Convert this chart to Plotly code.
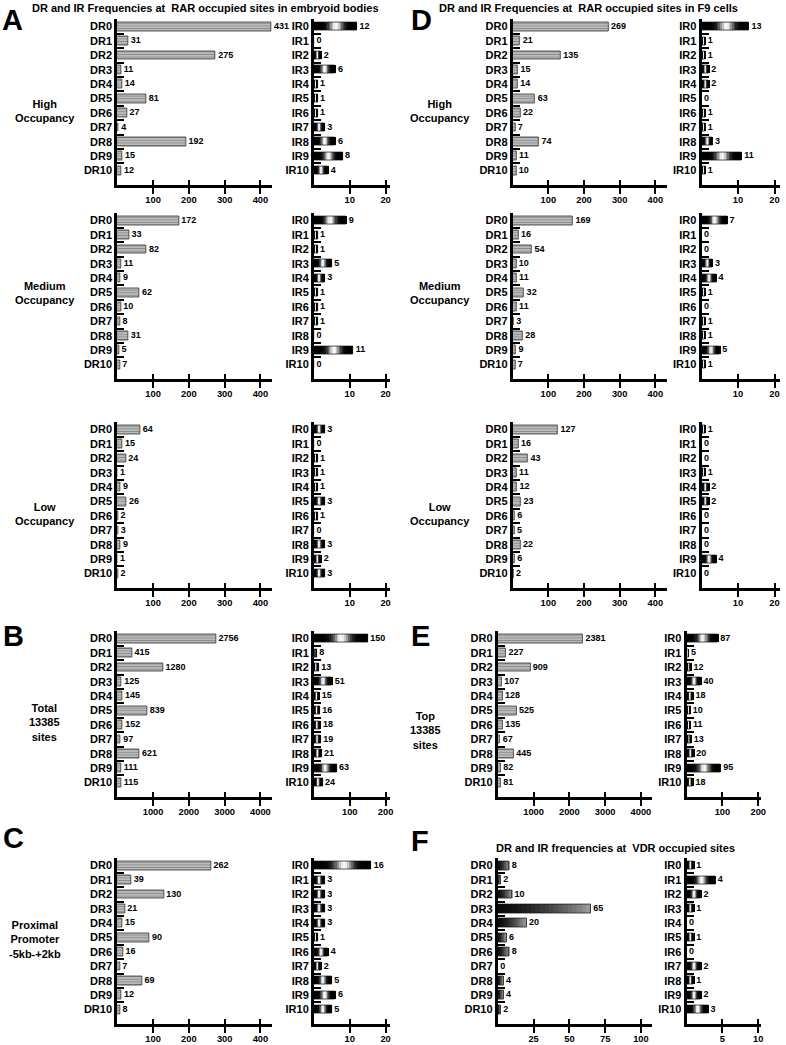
import math
import plotly.graph_objects as go

W, H = 786, 1045

DR_CATS = [f"DR{i}" for i in range(11)]
IR_CATS = [f"IR{i}" for i in range(11)]

# ---- data ----
A_high_DR = [431, 31, 275, 11, 14, 81, 27, 4, 192, 15, 12]
A_high_IR = [12, 0, 2, 6, 1, 1, 1, 3, 6, 8, 4]
A_med_DR = [172, 33, 82, 11, 9, 62, 10, 8, 31, 5, 7]
A_med_IR = [9, 1, 1, 5, 3, 1, 1, 1, 0, 11, 0]
A_low_DR = [64, 15, 24, 1, 9, 26, 2, 3, 9, 1, 2]
A_low_IR = [3, 0, 1, 1, 1, 3, 1, 0, 3, 2, 3]
B_DR = [2756, 415, 1280, 125, 145, 839, 152, 97, 621, 111, 115]
B_IR = [150, 8, 13, 51, 15, 16, 18, 19, 21, 63, 24]
C_DR = [262, 39, 130, 21, 15, 90, 16, 7, 69, 12, 8]
C_IR = [16, 3, 3, 3, 3, 1, 4, 2, 5, 6, 5]
D_high_DR = [269, 21, 135, 15, 14, 63, 22, 7, 74, 11, 10]
D_high_IR = [13, 1, 1, 2, 2, 0, 1, 1, 3, 11, 1]
D_med_DR = [169, 16, 54, 10, 11, 32, 11, 3, 28, 9, 7]
D_med_IR = [7, 0, 0, 3, 4, 1, 0, 1, 1, 5, 1]
D_low_DR = [127, 16, 43, 11, 12, 23, 6, 5, 22, 6, 2]
D_low_IR = [1, 0, 0, 1, 2, 2, 0, 0, 0, 4, 0]
E_DR = [2381, 227, 909, 107, 128, 525, 135, 67, 445, 82, 81]
E_IR = [87, 5, 12, 40, 18, 10, 11, 13, 20, 95, 18]
F_DR = [8, 2, 10, 65, 20, 6, 8, 0, 4, 4, 2]
F_IR = [1, 4, 2, 1, 0, 1, 0, 2, 1, 2, 3]

DR_TICKS_S = [100, 200, 300, 400]
DR_TICKS_L = [1000, 2000, 3000, 4000]
IR_TICKS_S = [10, 20]
IR_TICKS_L = [100, 200]
F_DR_TICKS = [25, 50, 75, 100]
F_IR_TICKS = [5, 10]

FONT = "Liberation Sans, Arial, sans-serif"

# ---- layout geometry (pixels) ----
ROW_BOTTOM = [185, 379, 588, 797, 1024]
ROW_H = 165.6
LEFT = dict(dr=(118, 274), ir=(316, 392))
RIGHT_D = dict(dr=(516, 671), ir=(706, 785))
RIGHT_EF = dict(dr=(501, 656), ir=(691, 766))


def grey(b):
    b = int(max(0, min(255, round(b))))
    return f"rgb({b},{b},{b})"


# black - white - black shading of the IR bars
N_IR = 28
IR_GRAD = [grey(248 * math.exp(-(((k + 0.5) / N_IR - 0.52) / 0.15) ** 2)) for k in range(N_IR)]
# dark-to-light shading of the VDR DR bars
N_F = 20
F_DR_GRAD = [grey(10 + 150 * ((k + 0.5) / N_F) ** 1.6) for k in range(N_F)]

panels = [
    # dr, ir, cols, row, dr_range, dr_ticks, ir_range, ir_ticks, dr_style
    (A_high_DR, A_high_IR, LEFT, 0, 433, DR_TICKS_S, 21.1, IR_TICKS_S, 'stripe'),
    (A_med_DR, A_med_IR, LEFT, 1, 433, DR_TICKS_S, 21.1, IR_TICKS_S, 'stripe'),
    (A_low_DR, A_low_IR, LEFT, 2, 433, DR_TICKS_S, 21.1, IR_TICKS_S, 'stripe'),
    (B_DR, B_IR, LEFT, 3, 4330, DR_TICKS_L, 211, IR_TICKS_L, 'stripe'),
    (C_DR, C_IR, LEFT, 4, 433, DR_TICKS_S, 21.1, IR_TICKS_S, 'stripe'),
    (D_high_DR, D_high_IR, RIGHT_D, 0, 432, DR_TICKS_S, 21.5, IR_TICKS_S, 'stripe'),
    (D_med_DR, D_med_IR, RIGHT_D, 1, 432, DR_TICKS_S, 21.5, IR_TICKS_S, 'stripe'),
    (D_low_DR, D_low_IR, RIGHT_D, 2, 432, DR_TICKS_S, 21.5, IR_TICKS_S, 'stripe'),
    (E_DR, E_IR, RIGHT_EF, 3, 4305, DR_TICKS_L, 208, IR_TICKS_L, 'stripe'),
    (F_DR, F_IR, RIGHT_EF, 4, 107.6, F_DR_TICKS, 10.4, F_IR_TICKS, 'grad'),
]

fig = go.Figure()
layout = {}
ax = 0


def px_x(v):
    return v / W


def px_y(v):
    return 1 - v / H


def axis_pair(idx, xdom, bottom, xmax, ticks, cats):
    xa = dict(domain=[px_x(xdom[0]), px_x(xdom[1])], range=[0, xmax], anchor=f"y{idx}",
              tickmode="array", tickvals=ticks, ticks="outside", ticklen=6, tickwidth=1.6,
              tickcolor="black", ticklabeloverflow="allow", ticklabelstandoff=-2,
              minor=dict(tickmode="array", tickvals=[t * 1.0000001 for t in ticks],
                         ticks="inside", ticklen=5, tickwidth=1.6, tickcolor="black",
                         showgrid=False),
              showline=True, linewidth=3, linecolor="black", showgrid=False, zeroline=False,
              tickfont=dict(family=FONT, size=9.3, color="black", weight="bold"), fixedrange=True)
    ya = dict(domain=[px_y(bottom), px_y(bottom - ROW_H)], anchor=f"x{idx}", type="category",
              categoryorder="array", categoryarray=cats, range=[11, -0.5], autorange=False,
              tickson="boundaries", ticks="inside", ticklen=7, tickwidth=1.5, tickcolor="black",
              showline=True, linewidth=3, linecolor="black", showgrid=False, zeroline=False,
              tickfont=dict(family=FONT, size=11, color="black", weight="bold"), fixedrange=True)
    return xa, ya


def add_gradient(vals, cats, colors, width, idx):
    n = len(colors)
    for k, c in enumerate(colors):
        fig.add_trace(go.Bar(
            x=[v / n for v in vals], base=[v * k / n for v in vals], y=cats, orientation="h",
            width=width, marker=dict(color=c, line=dict(width=0)),
            xaxis=f"x{idx}", yaxis=f"y{idx}", showlegend=False, hoverinfo="skip"))
    fig.add_trace(go.Bar(
        x=vals, base=[0] * len(vals), y=cats, orientation="h", width=width,
        marker=dict(color="rgba(0,0,0,0)", line=dict(color="#111", width=0.7)),
        xaxis=f"x{idx}", yaxis=f"y{idx}", showlegend=False, hoverinfo="skip"))


def add_labels(vals, cats, idx):
    fig.add_trace(go.Scatter(
        x=vals, y=cats, mode="text", text=[f" {v}" for v in vals], textposition="middle right",
        textfont=dict(family=FONT, size=9, color="black", weight="bold"), cliponaxis=False,
        xaxis=f"x{idx}", yaxis=f"y{idx}", showlegend=False, hoverinfo="skip"))


for dr, ir, cols, row, drmax, drt, irmax, irt, style in panels:
    bottom = ROW_BOTTOM[row]
    # DR
    ax += 1
    xa, ya = axis_pair(ax, cols['dr'], bottom, drmax, drt, DR_CATS)
    layout[f"xaxis{ax}"] = xa
    layout[f"yaxis{ax}"] = ya
    if style == 'stripe':
        fig.add_trace(go.Bar(
            x=dr, y=DR_CATS, orientation="h", width=0.62,
            marker=dict(color="#d8d8d8", line=dict(color="#333", width=0.8),
                        pattern=dict(shape="-", fgcolor="#424242", bgcolor="#d8d8d8",
                                     size=2.6, solidity=0.6)),
            xaxis=f"x{ax}", yaxis=f"y{ax}", showlegend=False, hoverinfo="skip"))
    else:
        add_gradient(dr, DR_CATS, F_DR_GRAD, 0.6, ax)
    add_labels(dr, DR_CATS, ax)
    # IR
    ax += 1
    xa, ya = axis_pair(ax, cols['ir'], bottom, irmax, irt, IR_CATS)
    layout[f"xaxis{ax}"] = xa
    layout[f"yaxis{ax}"] = ya
    add_gradient(ir, IR_CATS, IR_GRAD, 0.56, ax)
    add_labels(ir, IR_CATS, ax)

annotations = []


def ann(text, x, y, size, xanchor="left", align="left", yanchor="middle"):
    annotations.append(dict(text=text, x=px_x(x), y=px_y(y), xref="paper", yref="paper",
                            xanchor=xanchor, yanchor=yanchor, align=align, showarrow=False,
                            font=dict(family=FONT, size=size, color="black", weight="bold")))


ann("DR and IR Frequencies at  RAR occupied sites in embryoid bodies", 30, 8, 11)
ann("DR and IR Frequencies at  RAR occupied sites in F9 cells", 440, 8, 11)
ann("DR and IR frequencies at  VDR occupied sites", 497, 848, 11)

ann("A", 0, 2, 29, yanchor="top")
ann("D", 412, 2, 29, yanchor="top")
for letter, x, y in [("B", 1, 636), ("C", 1, 838), ("E", 412, 636), ("F", 412, 841)]:
    ann(letter, x, y, 29)

for text, x, y in [("High<br>Occupancy", 45, 111), ("Medium<br>Occupancy", 45, 293),
                   ("Low<br>Occupancy", 45, 514), ("Total<br>13385<br>sites", 45, 722),
                   ("Proximal<br>Promoter<br>-5kb-+2kb", 35, 939),
                   ("High<br>Occupancy", 443, 111), ("Medium<br>Occupancy", 443, 293),
                   ("Low<br>Occupancy", 443, 514), ("Top<br>13385<br>sites", 428, 730)]:
    ann(text, x, y, 11, xanchor="center", align="center")

fig.update_layout(width=W, height=H, margin=dict(l=0, r=0, t=0, b=0),
                  paper_bgcolor="white", plot_bgcolor="white", barmode="overlay",
                  bargap=0, showlegend=False, annotations=annotations, **layout)

# remove the browser's default 8px body margin so the figure fills the window exactly
fig.write_html("out.html", config={"displayModeBar": False},
               post_script="document.body.style.margin='0';document.body.style.overflow='hidden';")
